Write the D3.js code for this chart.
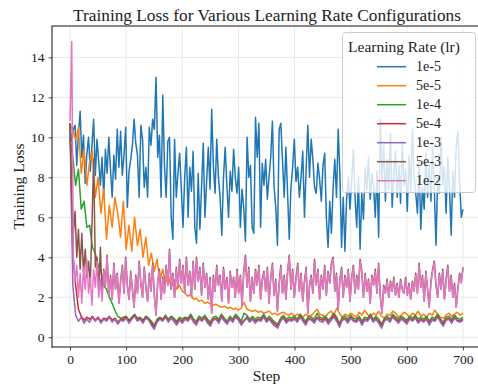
<!DOCTYPE html>
<html><head><meta charset="utf-8">
<script src="https://cdn.jsdelivr.net/npm/d3@7"></script>
<style>body{margin:0;background:#fff}svg{display:block}svg text{font-family:"Liberation Serif","Times New Roman",serif !important;fill:#222}</style>
</head><body><svg id="c" width="478" height="388"></svg>
<script>
const labels = ["1e-5","5e-5","1e-4","5e-4","1e-3","5e-3","1e-2"];
const colors = ["#1f77b4","#ff7f0e","#2ca02c","#d62728","#9467bd","#8c564b","#e377c2"];
const xTicks = [0,100,200,300,400,500,600,700];
const yTicks = [0,2,4,6,8,10,12,14];
const maxStep = 700;

const lr1e5 = [10.6,9.8,10.4,10.6,8.6,10.2,11.3,9.0,10.1,7.7,
9.2,10.0,8.3,9.6,10.9,8.1,9.9,8.8,7.6,9.0,
7.0,9.4,8.2,10.0,8.4,7.0,9.1,7.9,10.4,8.5,
10.3,8.1,9.1,10.5,6.5,8.3,8.9,9.6,10.9,9.7,
9.1,7.0,10.6,9.9,7.5,8.5,7.0,10.5,9.6,10.9,
10.4,13.0,9.0,10.1,7.0,12.1,8.6,7.0,9.8,10.0,
6.0,4.9,9.9,7.0,8.2,9.2,7.4,5.5,8.0,9.5,
6.0,8.5,7.3,9.3,5.5,4.7,8.2,5.4,7.5,9.7,
6.0,7.8,9.5,7.4,11.4,8.6,7.2,9.9,8.0,7.0,
5.1,8.0,9.5,7.6,6.0,8.3,7.3,9.4,8.0,7.2,
8.5,5.5,7.4,6.5,4.8,10.0,8.0,8.6,5.5,5.2,
11.0,9.0,10.7,5.5,8.7,7.6,8.9,6.9,8.0,9.0,
10.8,7.5,6.5,4.6,10.4,10.7,8.8,7.0,9.5,7.2,
4.9,7.5,8.5,9.9,7.8,8.5,7.0,8.0,9.3,6.0,
8.4,10.6,8.0,9.9,8.9,7.5,7.2,8.7,7.9,6.8,
8.6,9.2,6.0,4.5,6.8,5.2,7.5,8.9,7.0,10.4,
8.2,4.5,7.0,4.3,6.9,8.0,6.4,7.8,9.4,7.0,
5.5,8.0,4.4,7.2,5.9,8.5,7.4,9.0,6.9,8.2,
7.5,6.0,8.3,5.0,10.9,7.8,9.6,6.8,8.9,7.4,
10.2,6.5,8.1,9.3,7.0,8.6,6.7,9.8,7.6,8.4,
6.3,9.1,7.3,10.4,8.0,7.2,6.2,8.8,5.4,7.5,
6.4,9.2,7.0,8.6,6.8,9.5,7.4,4.6,8.0,7.2,
10.0,7.6,8.5,6.2,9.0,7.4,5.1,8.3,7.0,9.6,
10.3,7.8,6.0,6.4];

const lr5e5 = [10.7,10.3,9.9,10.5,8.2,9.4,7.6,8.8,9.3,7.0,
8.0,6.2,7.4,4.9,6.6,5.5,7.0,6.2,5.0,6.8,
4.4,5.6,4.3,6.0,4.6,5.4,4.0,5.0,3.6,4.2,
3.3,3.9,2.8,3.4,2.7,3.1,2.5,2.9,2.4,2.6,
2.3,2.2,2.05,2.15,1.9,1.95,1.8,1.85,1.7,1.75,
1.65,1.6,1.65,1.55,1.5,1.55,1.45,1.5,1.4,1.45,
1.35,1.45,1.75,1.4,1.35,1.3,1.35,1.25,1.3,1.2,
1.25,1.3,1.15,1.2,1.1,1.2,1.25,1.15,1.1,1.2,
1.05,1.15,1.1,1.0,1.15,1.05,1.1,1.25,1.4,1.15,
1.1,1.0,1.2,1.3,1.1,1.45,1.2,1.0,1.15,1.05,
1.2,1.1,1.0,1.25,1.1,1.35,1.15,1.0,1.2,1.1,
1.3,1.05,0.95,1.15,1.1,1.3,1.2,1.0,1.1,1.25,
1.15,1.0,1.2,1.1,1.3,1.05,1.15,1.0,1.2,1.1,
1.35,1.15,1.0,0.95,1.1,1.2,1.05,1.15,1.25,1.1,1.2];

const lr1e4 = [10.0,9.0,7.6,8.4,6.4,6.8,5.5,5.6,4.5,4.2,
3.6,3.3,2.6,2.4,2.0,1.7,1.35,1.05,0.95,1.0,
1.05,0.85,1.0,1.15,0.95,1.0,0.85,1.05,0.95,0.8,
0.6,0.9,1.0,0.9,1.1,0.9,1.05,0.95,0.8,1.0,
0.9,1.0,0.95,1.15,0.9,0.8,1.05,0.95,1.1,0.9,
0.75,1.0,1.05,0.9,1.15,0.95,0.8,1.05,0.9,1.15,
1.0,0.8,1.2,1.1,0.9,1.05,0.9,1.0,0.95,1.15,
0.9,1.05,0.9,0.75,0.65,0.95,1.1,0.9,1.0,0.95,
1.05,0.9,1.15,0.95,0.8,1.05,1.0,0.9,1.2,1.0,
0.95,1.05,0.85,1.0,1.2,1.0,0.7,1.0,1.05,0.9,
1.1,0.95,0.9,1.05,0.8,1.0,0.95,1.15,0.9,1.05,
0.9,0.65,0.95,1.05,0.9,1.15,1.0,0.9,1.05,0.95,
0.85,1.05,0.95,1.1,0.9,1.0,0.9,1.05,0.8,1.0,
0.95,1.15,0.9,0.75,1.0,1.05,0.9,1.1,0.95,0.9,1.0];

const lr5e4 = [10.7,4.2,2.6,1.4,1.05,0.85,1.0,0.9,1.05,0.85,
1.0,0.8,0.95,0.9,1.05,0.85,0.95,0.75,0.9,0.9,
1.0,0.8,0.95,1.1,0.85,0.95,0.8,1.0,0.9,0.7,
0.5,0.8,0.95,0.85,1.05,0.8,1.0,0.85,0.7,0.9,
0.8,0.95,0.85,1.05,0.8,0.7,0.95,0.85,1.0,0.8,
0.65,0.9,0.95,0.8,1.05,0.85,0.7,0.95,0.8,1.05,
0.9,0.7,0.85,1.0,0.8,0.95,0.8,0.9,0.85,1.05,
0.8,0.95,0.8,0.65,0.55,0.85,1.0,0.8,0.9,0.85,
0.95,0.8,1.05,0.85,0.7,0.95,0.9,0.8,1.0,0.9,
0.85,0.95,0.75,0.9,1.1,0.9,0.6,0.9,0.95,0.8,
1.0,0.85,0.8,0.95,0.7,0.9,0.85,1.05,0.8,0.95,
0.8,0.55,0.85,0.95,0.8,1.05,0.9,0.8,0.95,0.85,
0.75,0.95,0.85,1.0,0.8,0.9,0.8,0.95,0.7,0.9,
0.85,1.05,0.8,0.65,0.9,0.95,0.8,1.0,0.85,0.8,0.9];

const lr1e3 = [10.6,2.6,1.1,0.8,1.0,0.7,0.9,0.75,1.0,0.8,
0.95,0.7,0.9,0.8,1.0,0.75,0.9,0.65,0.85,0.8,
0.95,0.7,0.9,1.05,0.8,0.9,0.7,0.95,0.85,0.6,
0.4,0.75,0.9,0.8,1.0,0.75,0.95,0.8,0.6,0.85,
0.7,0.9,0.8,1.0,0.75,0.6,0.9,0.8,0.95,0.7,
0.55,0.85,0.9,0.7,1.0,0.8,0.65,0.9,0.75,1.0,
0.85,0.6,0.8,0.95,0.75,0.9,0.7,0.85,0.8,1.0,
0.75,0.9,0.7,0.55,0.45,0.8,0.95,0.7,0.85,0.8,
0.9,0.75,1.0,0.8,0.6,0.9,0.85,0.7,0.95,0.8,
0.75,0.9,0.65,0.85,1.0,0.8,0.5,0.85,0.9,0.7,
0.95,0.8,0.75,0.9,0.6,0.85,0.8,1.0,0.75,0.9,
0.7,0.45,0.8,0.9,0.75,1.0,0.85,0.7,0.9,0.8,
0.65,0.9,0.8,0.95,0.7,0.85,0.75,0.9,0.6,0.85,
0.8,1.0,0.75,0.55,0.85,0.9,0.7,0.95,0.8,0.75,0.85];

const lr5e3 = [10.7,7.0,5.2,6.3,4.0,5.4,3.4,5.2,3.2,4.4,
3.0,3.8,2.6,5.6,8.9,3.5,4.0,2.4,4.5,2.2,
3.4,2.6,4.1,2.1,3.1,1.9,3.7,2.4,3.2,1.7,
2.8,3.6,2.2,4.0,2.6,1.9,3.3,2.4,1.5,3.1,
2.2,3.8,2.7,2.0,3.5,2.5,1.8,3.2,2.3,3.7,
2.1,1.1,2.8,3.4,1.9,3.0,2.2,3.6,2.6,4.4,
2.4,3.2,2.0,3.5,2.5,3.9,2.7,3.6,2.2,4.0,
2.6,3.3,2.0,3.8,2.4,4.0,2.8,3.5,2.1,3.7,
2.5,3.2,1.9,3.0,1.2,3.1,2.3,3.6,2.6,3.1,
1.8,3.5,2.4,3.0,1.7,3.3,2.5,3.0,2.0,3.4,
2.2,3.1,1.6,3.3,4.1,2.5,3.5,1.8,3.0,2.2,
3.4,2.6,3.6,1.9,2.9,3.3,2.3,3.5,1.7,3.0,
3.7,2.1,2.9,1.3,2.7,3.6,2.2,3.1,1.9,3.3,
4.1,2.4,3.4,2.0,3.0,3.7,2.3,3.2,1.8,2.8,
3.5,1.2,2.6,3.1,2.2,3.9,2.6,3.4,1.9,3.1,
2.4,3.6,2.1,3.3,2.7,3.7,4.0,2.3,3.2,1.4,
2.9,3.5,2.0,3.1,2.5,3.4,1.8,3.0,3.6,2.2,
3.1,2.4,3.9,3.3,2.0,3.2,2.3,2.9,1.7,3.1,
2.6,3.4,2.2,3.7,2.0,1.2,2.6,2.2,2.9,2.0,
2.8,2.3,3.0,2.1,2.7,2.0,2.9,2.4,2.2,3.0,
2.1,2.7,1.9,2.8,2.3,3.2,2.2,3.7,2.5,3.1,
1.8,3.3,2.4,1.5,2.8,3.4,3.8,2.6,2.0,3.2,
2.4,3.4,1.9,2.9,3.6,2.3,3.1,2.0,2.7,1.5,
2.5,3.2,2.8,3.5];

const lr1e2 = [10.8,14.8,4.0,2.8,3.6,2.0,3.2,1.7,3.5,2.4,
3.9,2.2,3.0,1.6,3.4,2.5,3.8,2.0,2.9,1.8,
3.3,2.6,4.0,2.1,3.0,1.9,3.6,2.4,3.1,1.7,
2.8,3.5,2.2,3.9,2.6,1.9,3.2,2.4,1.5,3.0,
2.2,3.7,2.7,2.0,3.4,2.5,1.8,3.1,2.3,3.6,
2.1,1.1,2.8,3.3,1.9,2.9,2.2,3.5,2.6,4.3,
2.4,3.1,2.0,3.4,2.5,3.8,2.7,3.5,2.2,3.9,
2.6,3.2,2.0,3.7,2.4,3.9,2.8,3.4,2.1,3.6,
2.5,3.1,1.9,2.9,1.2,3.0,2.3,3.5,2.6,3.0,
1.8,3.4,2.4,2.9,1.7,3.2,2.5,2.9,2.0,3.3,
2.2,3.0,1.6,3.2,4.0,2.5,3.4,1.8,2.9,2.2,
3.3,2.6,3.5,1.9,2.8,3.2,2.3,3.4,1.7,2.9,
3.6,2.1,2.8,1.3,2.6,3.5,2.2,3.0,1.9,3.2,
4.0,2.4,3.3,2.0,2.9,3.6,2.3,3.1,1.8,2.7,
3.4,1.2,2.5,3.0,2.2,3.8,2.6,3.3,1.9,3.0,
2.4,3.5,2.1,3.2,2.7,3.6,3.9,2.3,3.1,1.4,
2.8,3.4,2.0,3.0,2.5,3.3,1.8,2.9,3.5,2.2,
3.0,2.4,3.8,3.2,2.0,3.1,2.3,2.8,1.7,3.0,
2.6,3.3,2.2,3.6,2.0,1.2,2.5,2.2,2.8,2.0,
2.7,2.3,2.9,2.1,2.6,2.0,2.8,2.4,2.2,2.9,
2.1,2.6,1.9,2.7,2.3,3.1,2.2,3.6,2.5,3.0,
1.8,3.2,2.4,1.5,2.7,3.3,3.7,2.6,2.0,3.1,
2.4,3.3,1.9,2.8,3.5,2.3,3.0,2.0,2.6,1.5,
2.4,3.1,2.7,3.4];

const series = [lr1e5, lr5e5, lr1e4, lr5e4, lr1e3, lr5e3, lr1e2];
const FONT = '"Liberation Serif","Times New Roman",serif';

const svg = d3.select("#c");
const x = d3.scaleLinear().domain([-32.1, 725]).range([52, 477]);
const y = d3.scaleLinear().domain([-0.49, 15.57]).range([347, 26]);

// grid
const grid = svg.append("g").attr("stroke", "#e6e6e6").attr("stroke-width", 0.9);
xTicks.forEach(t => grid.append("line").attr("x1", x(t)).attr("x2", x(t)).attr("y1", 26).attr("y2", 347));
yTicks.forEach(t => grid.append("line").attr("x1", 52).attr("x2", 478).attr("y1", y(t)).attr("y2", y(t)));

// lines
const plot = svg.append("g");
series.forEach((vals, k) => {
  const n = vals.length;
  const pts = vals.map((v, i) => [i * maxStep / (n - 1), v]);
  plot.append("path").datum(pts)
    .attr("fill", "none").attr("stroke", colors[k]).attr("stroke-width", 1.5)
    .attr("stroke-linejoin", "round")
    .attr("d", d3.line().x(d => x(d[0])).y(d => y(d[1])));
});

// axes
const xAxis = d3.axisBottom(x).tickValues(xTicks).tickSize(3.5).tickPadding(4).tickFormat(d3.format("d"));
const gx = svg.append("g").attr("transform", "translate(0,347)").call(xAxis);
gx.attr("font-family", FONT).attr("font-size", 13.5);
gx.select(".domain").remove();
gx.selectAll("line").attr("stroke", "#222").attr("stroke-width", 0.8);

const yAxis = d3.axisLeft(y).tickValues(yTicks).tickSize(3.5).tickPadding(4).tickFormat(d3.format("d"));
const gy = svg.append("g").attr("transform", "translate(52,0)").call(yAxis);
gy.attr("font-family", FONT).attr("font-size", 13.5);
gy.select(".domain").remove();
gy.selectAll("line").attr("stroke", "#222").attr("stroke-width", 0.8);

// spines
const sp = svg.append("g").attr("stroke", "#111").attr("stroke-width", 1);
sp.append("line").attr("x1", 52).attr("x2", 52).attr("y1", 26).attr("y2", 347.5);
sp.append("line").attr("x1", 51.5).attr("x2", 478).attr("y1", 347).attr("y2", 347);
sp.append("line").attr("x1", 51.5).attr("x2", 478).attr("y1", 26).attr("y2", 26);

// labels
svg.append("text").attr("x", 267).attr("y", 21).attr("text-anchor", "middle").attr("font-size", 17.3).text("Training Loss for Various Learning Rate Configurations");
svg.append("text").attr("x", 266.5).attr("y", 381).attr("text-anchor", "middle").attr("font-size", 15.5).text("Step");
svg.append("text").attr("transform", "translate(24,186.5) rotate(-90)").attr("text-anchor", "middle").attr("font-size", 15.5).text("Training Loss");

// legend
const lg = svg.append("g");
lg.append("rect").attr("x", 342.5).attr("y", 32.5).attr("width", 133).attr("height", 160).attr("rx", 3)
  .attr("fill", "#fff").attr("fill-opacity", 0.8).attr("stroke", "#ccc").attr("stroke-width", 1);
lg.append("text").attr("x", 404).attr("y", 51.5).attr("text-anchor", "middle").attr("font-size", 15.5).text("Learning Rate (lr)");
labels.forEach((l, k) => {
  const yy = 66.7 + k * 19;
  lg.append("line").attr("x1", 377).attr("x2", 406).attr("y1", yy).attr("y2", yy).attr("stroke", colors[k]).attr("stroke-width", 1.5);
  lg.append("text").attr("x", 416).attr("y", yy + 4.5).attr("font-size", 14).text(l);
});
svg.selectAll("text").style("font-family", FONT).style("fill", "#222");
</script></body></html>
